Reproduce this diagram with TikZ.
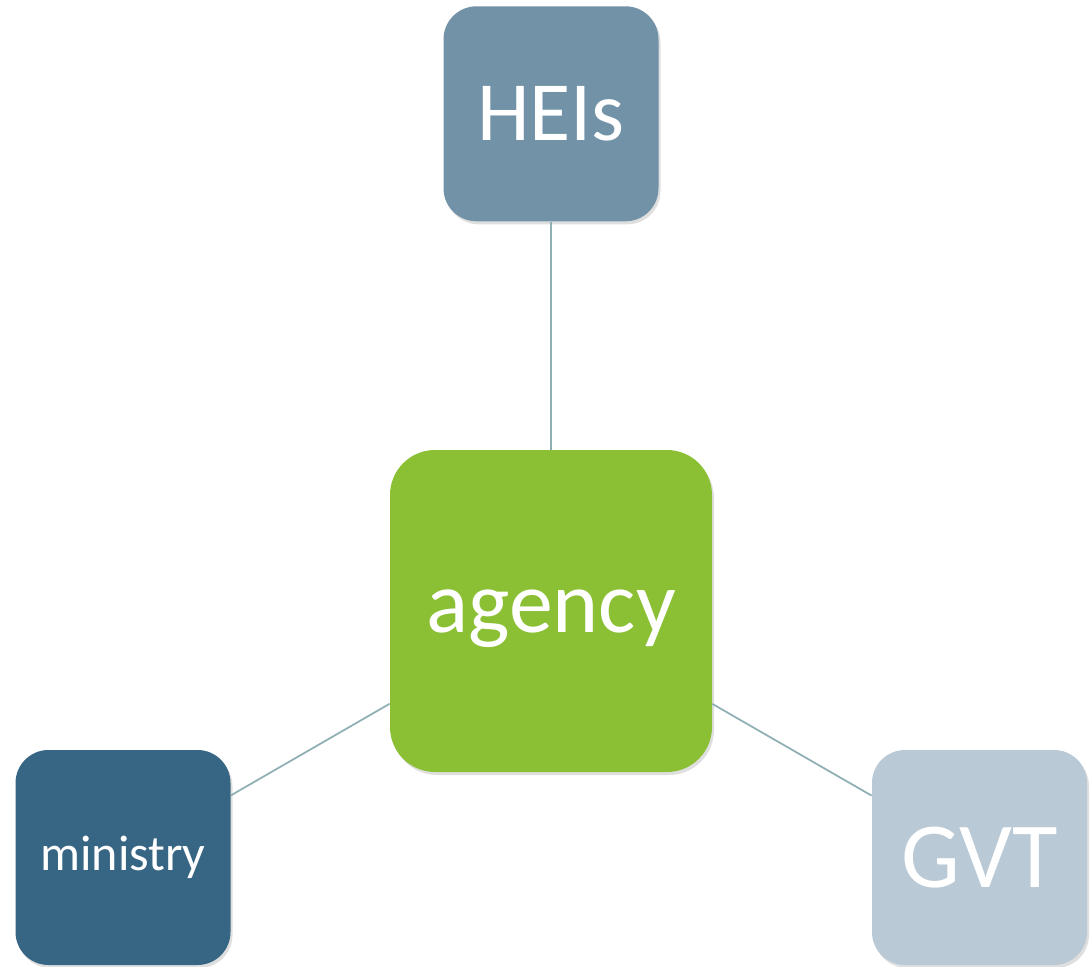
\documentclass[tikz,border=0pt]{standalone}
\usepackage{fontspec}
\setmainfont{Carlito}
\usepackage{xcolor}
\usetikzlibrary{positioning, shadows}

\definecolor{heisblue}{HTML}{7192A7}
\definecolor{agencygreen}{HTML}{8BC034}
\definecolor{ministryblue}{HTML}{376584}
\definecolor{gvtgrey}{HTML}{B9C9D5}
\definecolor{linkgrey}{HTML}{8FAFB5}

\tikzset{
    box/.style={rectangle, rounded corners=0.66cm, minimum width=4.3cm, minimum height=4.3cm,
        inner sep=0pt, text=white, align=center,
        drop shadow={opacity=0.25, shadow xshift=0.04cm, shadow yshift=-0.06cm}},
    link/.style={draw=linkgrey, line width=1pt}
}

\begin{document}
\begin{tikzpicture}
    \useasboundingbox (0,0) rectangle (21.84,-19.34);

    \node[box, fill=agencygreen, minimum width=6.44cm, minimum height=6.44cm, text depth=0pt,
        rounded corners=0.9cm, font=\fontsize{50}{60}\selectfont] (agency) at (11.02,-12.22) {agency};

    \node[box, fill=heisblue, above=4.56cm of agency, font=\fontsize{48}{58}\selectfont] (heis) {HEIs};

    \node[box, fill=ministryblue, font=\fontsize{28.5}{34}\selectfont] (ministry) at (2.46,-17.15) {ministry};

    \node[box, fill=gvtgrey, font=\fontsize{53}{64}\selectfont] (gvt) at (19.59,-17.15) {GVT};

    \draw[link] (heis) -- (agency);
    \draw[link] (agency) -- (ministry);
    \draw[link] (agency) -- (gvt);
\end{tikzpicture}
\end{document}
